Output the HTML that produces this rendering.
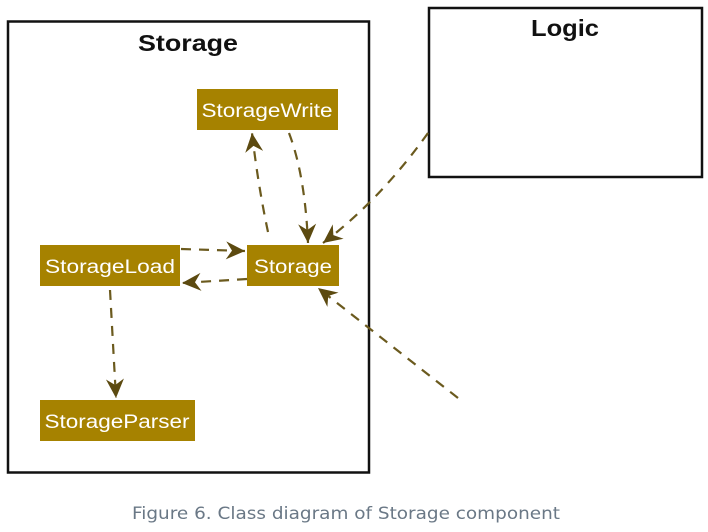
<!DOCTYPE html>
<html><head><meta charset="utf-8"><style>
html,body{margin:0;padding:0;background:#fff;width:708px;height:532px;overflow:hidden}
svg{display:block}
</style></head><body>
<svg width="708" height="532" viewBox="0 0 708 532" xmlns="http://www.w3.org/2000/svg">
<defs>
<marker id="a" viewBox="0 0 24 24" refX="22" refY="12" markerWidth="24" markerHeight="24" markerUnits="userSpaceOnUse" orient="auto">
<path d="M22,12 L3,3 L9,12 L3,21 Z" fill="#5c4a10"/>
</marker>
</defs>
<rect x="8" y="21.5" width="361" height="451" fill="none" stroke="#111" stroke-width="2.5"/>
<text x="188" y="51" font-family="Liberation Sans, sans-serif" font-weight="bold" font-size="23" text-anchor="middle" fill="#111" textLength="100" lengthAdjust="spacingAndGlyphs">Storage</text>
<rect x="429" y="8" width="273" height="169" fill="none" stroke="#111" stroke-width="2.5"/>
<text x="565" y="36" font-family="Liberation Sans, sans-serif" font-weight="bold" font-size="23" text-anchor="middle" fill="#111" textLength="68" lengthAdjust="spacingAndGlyphs">Logic</text>

<g fill="#a68200">
<rect x="197" y="89" width="141" height="41"/>
<rect x="40" y="245" width="140" height="41"/>
<rect x="247" y="245" width="92" height="41"/>
<rect x="40" y="400" width="155" height="41"/>
</g>
<g font-family="Liberation Sans, sans-serif" font-size="19" fill="#fff" text-anchor="middle" lengthAdjust="spacingAndGlyphs">
<text x="267" y="117" textLength="131" lengthAdjust="spacingAndGlyphs">StorageWrite</text>
<text x="110" y="273" textLength="130" lengthAdjust="spacingAndGlyphs">StorageLoad</text>
<text x="293" y="273" textLength="78" lengthAdjust="spacingAndGlyphs">Storage</text>
<text x="117" y="428" textLength="145" lengthAdjust="spacingAndGlyphs">StorageParser</text>
</g>
<g fill="none" stroke="#6b5a1e" stroke-width="2.2" stroke-dasharray="10,8">
<path d="M289,133 Q305,175 308,243" marker-end="url(#a)"/>
<path d="M268,232 Q258,185 252,133" marker-end="url(#a)"/>
<path d="M181,249 L245,251" marker-end="url(#a)"/>
<path d="M247,279 L182,283" marker-end="url(#a)"/>
<path d="M110,290 L116,398" marker-end="url(#a)"/>
<path d="M428,133 Q380,200 323,243" marker-end="url(#a)"/>
<path d="M458,398 L318,288" marker-end="url(#a)"/>
</g>
<text x="346" y="519" font-family="DejaVu Sans, sans-serif" font-size="17" fill="#6a7886" text-anchor="middle" textLength="428" lengthAdjust="spacingAndGlyphs">Figure 6. Class diagram of Storage component</text>
</svg>
</body></html>
